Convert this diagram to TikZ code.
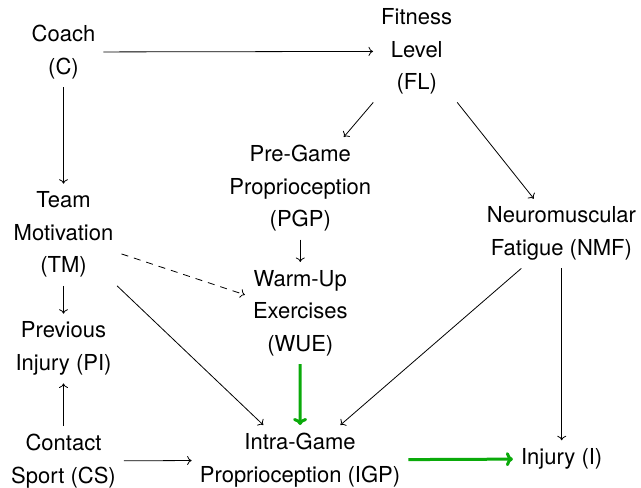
\documentclass[tikz,border=0pt]{standalone}
\usepackage{fontspec}
\setmainfont{TeX Gyre Heros}
\usetikzlibrary{arrows.meta}
\definecolor{arrgreen}{RGB}{10,170,10}
\tikzset{
  var/.style={align=center, inner sep=8pt, anchor=north,
    font=\fontsize{22}{32.5}\selectfont},
  edge/.style={line width=0.8pt, -{To[length=4.5pt,width=9pt]}},
  dashedge/.style={edge, dash pattern=on 7pt off 6pt},
  causal/.style={line width=3pt, draw=arrgreen, -{To[length=7pt,width=14pt]}}
}
\begin{document}
\begin{tikzpicture}[x=1pt,y=-1pt]
\useasboundingbox (0,0) rectangle (641,488);
\node[var] (C)   at (63.5,17)  {Coach\\(C)};
\node[var] (FL)  at (416.7,0.3) {Fitness\\Level\\(FL)};
\node[var] (PGP) at (300.3,137) {Pre-Game\\Proprioception\\(PGP)};
\node[var] (TM)  at (63.5,183.7) {Team\\Motivation\\(TM)};
\node[var] (NMF) at (561.5,198.7) {Neuromuscular\\Fatigue (NMF)};
\node[var] (WUE) at (300.3,262) {Warm-Up\\Exercises\\(WUE)};
\node[var] (PI)  at (63.5,313.7) {Previous\\Injury (PI)};
\node[var] (CS)  at (63.5,426) {Contact\\Sport (CS)};
\node[var] (IGP) at (300,425) {Intra-Game\\Proprioception (IGP)};
\node[var] (I)   at (561.7,440.3) {Injury (I)};

\draw[edge] (C) -- (FL);
\draw[edge] (C) -- (TM);
\draw[edge] (FL) -- (PGP);
\draw[edge] (FL) -- (NMF);
\draw[edge] (PGP) -- (WUE);
\draw[dashedge] (TM) -- (WUE);
\draw[edge] (TM) -- (PI);
\draw[edge] (CS) -- (PI);
\draw[edge] (TM) -- (IGP);
\draw[edge] (NMF) -- (IGP);
\draw[edge] (NMF.south -| I) -- (I);
\draw[edge] (CS) -- (IGP);
\draw[causal] (WUE) -- (IGP);
\draw[causal] (IGP) -- (I);
\end{tikzpicture}
\end{document}
